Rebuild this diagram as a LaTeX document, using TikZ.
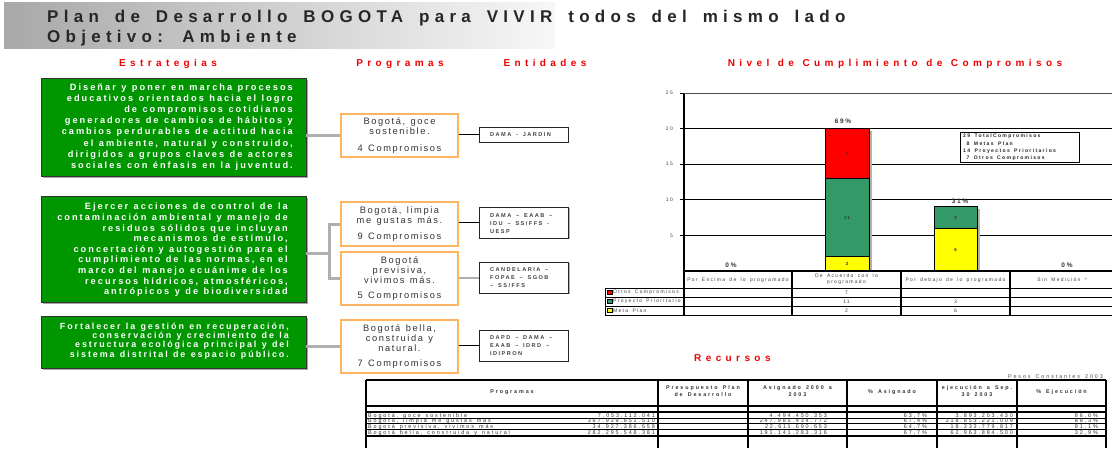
\documentclass[tikz,border=0pt]{standalone}
\usepackage{fontspec}
\setmainfont{Liberation Sans}
\newfontfamily\titlef[LetterSpace=31,WordSpace=1.6]{Liberation Sans}
\newfontfamily\headf[LetterSpace=44,WordSpace=1.2]{Liberation Sans}
\newfontfamily\boxf[LetterSpace=22,WordSpace=1.2]{Liberation Sans}
\newfontfamily\progf[LetterSpace=17,WordSpace=1.3]{Liberation Sans}
\newfontfamily\tinyf[LetterSpace=26,WordSpace=1.6]{Liberation Sans}
\newfontfamily\tabf[LetterSpace=35,WordSpace=1.5]{Liberation Sans}
\usetikzlibrary{shadows}
\definecolor{boxgreen}{RGB}{0,150,0}
\definecolor{barred}{RGB}{255,0,0}
\definecolor{bargreen}{RGB}{51,153,102}
\definecolor{baryellow}{RGB}{255,255,0}
\definecolor{progorange}{RGB}{255,180,100}
\definecolor{conngray}{RGB}{175,175,175}
\definecolor{headred}{RGB}{240,0,0}
\tikzset{
  heading/.style={inner sep=0, anchor=base, text=headred, font=\headf\bfseries\fontsize{10}{10}\selectfont},
  gbox/.style={draw=black!80, line width=0.8, fill=boxgreen, minimum width=265, inner sep=0,
     drop shadow={shadow xshift=1.5pt, shadow yshift=-1.5pt, fill=gray!70, opacity=1}},
  gtext/.style={anchor=east, inner sep=0, align=right, text=white},
  pbox/.style={draw=progorange, line width=1.1, fill=white, minimum width=117, inner sep=0, align=center,
     text=black!80, font=\progf\fontsize{9.3}{10.3}\selectfont},
  ebox/.style={draw=black!85, line width=1, fill=white, minimum width=89, inner sep=0,
     drop shadow={shadow xshift=1pt, shadow yshift=-1pt, fill=gray!60, opacity=1}},
  etext/.style={anchor=west, inner sep=0, align=left, text=black!75, font=\tinyf\bfseries\fontsize{5.6}{8}\selectfont},
  conn/.style={draw=conngray, line width=3},
  thin/.style={draw=black, line width=0.9},
  grid/.style={draw=black, line width=0.9},
  tick/.style={inner sep=0, text=black!75, font=\tinyf\fontsize{5}{6}\selectfont},
  bartxt/.style={inner sep=0, text=black!80, font=\tinyf\bfseries\fontsize{4.5}{5}\selectfont},
  pct/.style={inner sep=0, text=black!80, font=\tinyf\bfseries\fontsize{6.5}{7}\selectfont},
  bar/.style={draw=black, line width=0.9},
  tab/.style={inner sep=0, text=black!80, font=\tabf\fontsize{5.4}{7}\selectfont},
  tabh/.style={inner sep=0, text=black!80, align=center, font=\tabf\bfseries\fontsize{5.4}{7}\selectfont},
  tline/.style={draw=black, line width=0.7},
  tthick/.style={draw=black, line width=1.6},
}
\begin{document}
\begin{tikzpicture}[x=1pt,y=-1pt]
\useasboundingbox (0,0) rectangle (1112,448);
\fill[white] (0,0) rectangle (1112,448);

% ---------- title ----------
\shade[left color=gray!68, right color=gray!6] (4,2) rectangle (555,48);
\node[anchor=base west, inner sep=0, text=black!85, font=\titlef\bfseries\fontsize{17}{17}\selectfont] (t1) at (47,22.5) {Plan de Desarrollo BOGOTA para VIVIR todos del mismo lado};
\node[anchor=base west, inner sep=0, text=black!85, font=\titlef\bfseries\fontsize{17}{17}\selectfont] (t2) at (47,42.5) {Objetivo: Ambiente};

% ---------- headings ----------
\node[heading] (hE) at (168,66) {Estrategias};
\node[heading] (hP) at (400,66) {Programas};
\node[heading] (hEn) at (545,66) {Entidades};
\node[heading] (hN) at (895,66) {Nivel de Cumplimiento de Compromisos};
\node[heading, anchor=base west] (hR) at (694,361) {Recursos};

% ---------- strategy boxes ----------
\node[gbox, minimum height=98] (s1) at (173.5,127) {};
\node[gtext, font=\boxf\bfseries\fontsize{9.2}{11.2}\selectfont] (s1t) at (293,127) {Diseñar y poner en marcha procesos\\educativos orientados hacia el logro\\de compromisos cotidianos\\generadores de  cambios de hábitos y\\cambios perdurables de actitud hacia\\el ambiente, natural y construido,\\dirigidos a grupos claves de actores\\sociales con énfasis en la juventud.};

\node[gbox, minimum height=106] (s2) at (173.5,249) {};
\node[gtext, font=\boxf\bfseries\fontsize{9.2}{10.6}\selectfont] (s2t) at (288,250) {Ejercer acciones de control de la\\contaminación ambiental y manejo de\\residuos sólidos que incluyan\\mecanismos de estímulo,\\concertación y autogestión para el\\cumplimiento de las normas, en el\\marco del manejo ecuánime de los\\recursos hídricos, atmosféricos,\\antrópicos y de biodiversidad};

\node[gbox, minimum height=52] (s3) at (173.5,342) {};
\node[gtext, font=\boxf\bfseries\fontsize{8.9}{9.2}\selectfont] (s3t) at (289,341) {Fortalecer la gestión en recuperación,\\conservación y crecimiento de la\\estructura ecológica principal y del\\sistema distrital de espacio público.};

% ---------- program boxes ----------
\node[pbox, minimum height=43] (p1) at (399.5,135.5) {Bogotá, goce\\sostenible.\\[6pt]4 Compromisos};
\node[pbox, minimum height=44] (p2) at (399.5,224) {Bogotá, limpia\\me gustas más.\\[6pt]9 Compromisos};
\node[pbox, minimum height=53] (p3) at (399.5,278.5) {Bogotá\\previsiva,\\vivimos más.\\[5pt]5 Compromisos};
\node[pbox, minimum height=53] (p4) at (399.5,346.5) {Bogotá bella,\\construida y\\natural.\\[5pt]7 Compromisos};

% ---------- entity boxes ----------
\node[ebox, minimum height=15] (e1) at (523.5,134.5) {};
\node[etext] (e1t) at (490,134.5) {DAMA - JARDIN};
\node[ebox, minimum height=31] (e2) at (524,222.5) {};
\node[etext] (e2t) at (490,223.5) {DAMA – EAAB –\\IDU – SS/FFS -\\UESP};
\node[ebox, minimum height=31] (e3) at (524,277.5) {};
\node[etext] (e3t) at (490,278) {CANDELARIA –\\FOPAE – SGOB\\– SS/FFS};
\node[ebox, minimum height=31] (e4) at (523.5,345.5) {};
\node[etext] (e4t) at (490,345.5) {DAPD – DAMA –\\EAAB – IDRD –\\IDIPRON};

% ---------- connectors ----------
\coordinate (j2) at (329,253);
\draw[conn] (s1.east |- p1.west) -- (p1.west);
\draw[conn] (s2.east |- j2) -- (j2);
\draw[conn] (p2.west) -- (p2.west -| j2) -- (p3.west -| j2) -- (p3.west);
\draw[conn] (s3.east |- p4.west) -- (p4.west);
\draw[thin] (e1.west -| p1.east) -- (e1.west);
\draw[thin] (e2.west -| p2.east) -- (e2.west);
\draw[conn, line width=2] (e3.west -| p3.east) -- (e3.west);
\draw[thin] (e4.west -| p4.east) -- (e4.west);

% ---------- chart ----------
\foreach \v in {5,10,15,20,25} {
  \draw[grid] (684,{271-7.12*\v}) -- (1112,{271-7.12*\v});
  \draw[grid] (680,{271-7.12*\v}) -- (684,{271-7.12*\v});
  \node[tick, anchor=east] (yl\v) at (673,{271-7.12*\v}) {\v};
}
% bars with shadows
\fill[gray!60] (827,{271-7.12*20+2}) rectangle (871.5,271);
\fill[gray!60] (936,{271-7.12*9+2}) rectangle (979.5,271);
\draw[bar, fill=baryellow] (825,271) rectangle (869,{271-7.12*2});
\draw[bar, fill=bargreen] (825,{271-7.12*2}) rectangle (869,{271-7.12*13});
\draw[bar, fill=barred] (825,{271-7.12*13}) rectangle (869,{271-7.12*20});
\draw[bar, fill=baryellow] (934,271) rectangle (977,{271-7.12*6});
\draw[bar, fill=bargreen] (934,{271-7.12*6}) rectangle (977,{271-7.12*9});
\node[bartxt] (b21) at (847,{271-7.12*1}) {2};
\node[bartxt] (b22) at (847,{271-7.12*7.5}) {11};
\node[bartxt] (b23) at (847,{271-7.12*16.5}) {7};
\node[bartxt] (b31) at (955.5,{271-7.12*3}) {6};
\node[bartxt] (b32) at (955.5,{271-7.12*7.5}) {3};
\node[pct] (pc1) at (731,265) {0\%};
\node[pct] (pc2) at (843,121.5) {69\%};
\node[pct] (pc3) at (960,201.5) {31\%};
\node[pct] (pc4) at (1067,265) {0\%};
% legend box
\node[draw=black, line width=1, fill=white, minimum width=119, minimum height=30, inner sep=0] (leg) at (1019.5,147) {};
\node[anchor=west, inner sep=0, align=left, text=black!85, font=\tinyf\bfseries\fontsize{5.1}{7.4}\selectfont] (legt) at (963,147.5)
  {29 TotalCompromisos\\\hspace*{3.5pt}8 Metas Plan\\14 Proyectos Prioritarios\\\hspace*{3.5pt}7 Otros Compromisos};

% data table under chart
\draw[tthick] (684,93) -- (684,315);
\draw[grid, draw=black!70] (684,93) -- (1112,93);
\draw[tthick] (684,271) -- (1112,271);
\foreach \yy in {288,297,306,315} { \draw[tline, line width=0.9] (605,\yy) -- (1112,\yy); }
\draw[tline, line width=0.9] (605,288) -- (605,315);
\foreach \xx in {792,901,1010} { \draw[tline, line width=1.1] (\xx,271) -- (\xx,315); }
\node[tick] (c1) at (738,280) {Por Encima de lo programado};
\node[tick, align=center, font=\tinyf\fontsize{5}{6.2}\selectfont] (c2) at (846.5,279.5) {De Acuerdo con lo\\programado};
\node[tick] (c3) at (955.5,280) {Por debajo de lo programado};
\node[tick] (c4) at (1062,280) {Sin Medición *};
\draw[draw=black, line width=0.5, fill=barred] (607,290.5) rectangle (612,294.5);
\draw[draw=black, line width=0.5, fill=bargreen] (607,299.5) rectangle (612,303.5);
\draw[draw=black, line width=0.5, fill=baryellow] (607,308.5) rectangle (612,312.5);
\node[tick, anchor=west] (r1) at (613,292.5) {Otros Compromisos};
\node[tick, anchor=west] (r2) at (613,301.5) {Proyecto Prioritario};
\node[tick, anchor=west] (r3) at (613,310.5) {Meta Plan};
\node[tick] (v1) at (846.5,292.5) {7};
\node[tick] (v2) at (846.5,301.5) {11};
\node[tick] (v3) at (955.5,301.5) {3};
\node[tick] (v4) at (846.5,310.5) {2};
\node[tick] (v5) at (955.5,310.5) {6};

% ---------- resources table ----------
\node[tab, anchor=base east, text=black!70] (pesos) at (1103,378) {Pesos Constantes 2003};
\draw[tthick] (366,380) -- (1106,380);
\draw[tthick] (366,406) -- (1106,406);
\foreach \yy in {411,412.5,418,423.5,429,435,436.5} { \draw[tline] (366,\yy) -- (1106,\yy); }
\foreach \xx in {366,658,748,847,937,1017,1106} { \draw[tthick] (\xx,380) -- (\xx,448); }
\node[tabh] (h1) at (512,392.5) {Programas};
\node[tabh] (h2) at (703,391) {Presupuesto Plan\\de Desarrollo};
\node[tabh] (h3) at (797.5,391) {Asignado 2000 a\\2003};
\node[tabh] (h4) at (892,392.5) {\% Asignado};
\node[tabh] (h5) at (977,391) {ejecución a Sep.\\30 2003};
\node[tabh] (h6) at (1061.5,392.5) {\% Ejecución};

\node[tab, anchor=base west] (a1) at (368,417.2) {Bogotá, goce sostenible};
\node[tab, anchor=base west] (a2) at (368,422.7) {Bogotá, limpia me gustas más};
\node[tab, anchor=base west] (a3) at (368,428.2) {Bogotá previsiva, vivimos más};
\node[tab, anchor=base west] (a4) at (368,434) {Bogotá bella, construida y natural};

\node[tab, anchor=base east] (b1) at (655,417.2) {7.053.112.041};
\node[tab, anchor=base east] (b2) at (655,422.7) {367.929.651.510};
\node[tab, anchor=base east] (b3) at (655,428.2) {34.927.386.658};
\node[tab, anchor=base east] (b4) at (655,434) {282.295.548.381};

\node[tab, anchor=base east] (d1) at (827,417.2) {4.494.450.353};
\node[tab, anchor=base east] (d2) at (827,422.7) {247.985.434.772};
\node[tab, anchor=base east] (d3) at (827,428.2) {22.611.690.653};
\node[tab, anchor=base east] (d4) at (827,434) {191.141.283.316};

\node[tab, anchor=base east] (f1) at (927,417.2) {63,7\%};
\node[tab, anchor=base east] (f2) at (927,422.7) {67,4\%};
\node[tab, anchor=base east] (f3) at (927,428.2) {64,7\%};
\node[tab, anchor=base east] (f4) at (927,434) {67,7\%};

\node[tab, anchor=base east] (g1) at (1013,417.2) {3.893.203.430};
\node[tab, anchor=base east] (g2) at (1013,422.7) {218.853.221.009};
\node[tab, anchor=base east] (g3) at (1013,428.2) {18.333.779.817};
\node[tab, anchor=base east] (g4) at (1013,434) {62.963.884.500};

\node[tab, anchor=base east] (k1) at (1098,417.2) {86,6\%};
\node[tab, anchor=base east] (k2) at (1098,422.7) {88,3\%};
\node[tab, anchor=base east] (k3) at (1098,428.2) {81,1\%};
\node[tab, anchor=base east] (k4) at (1098,434) {32,9\%};
\end{tikzpicture}
\end{document}
